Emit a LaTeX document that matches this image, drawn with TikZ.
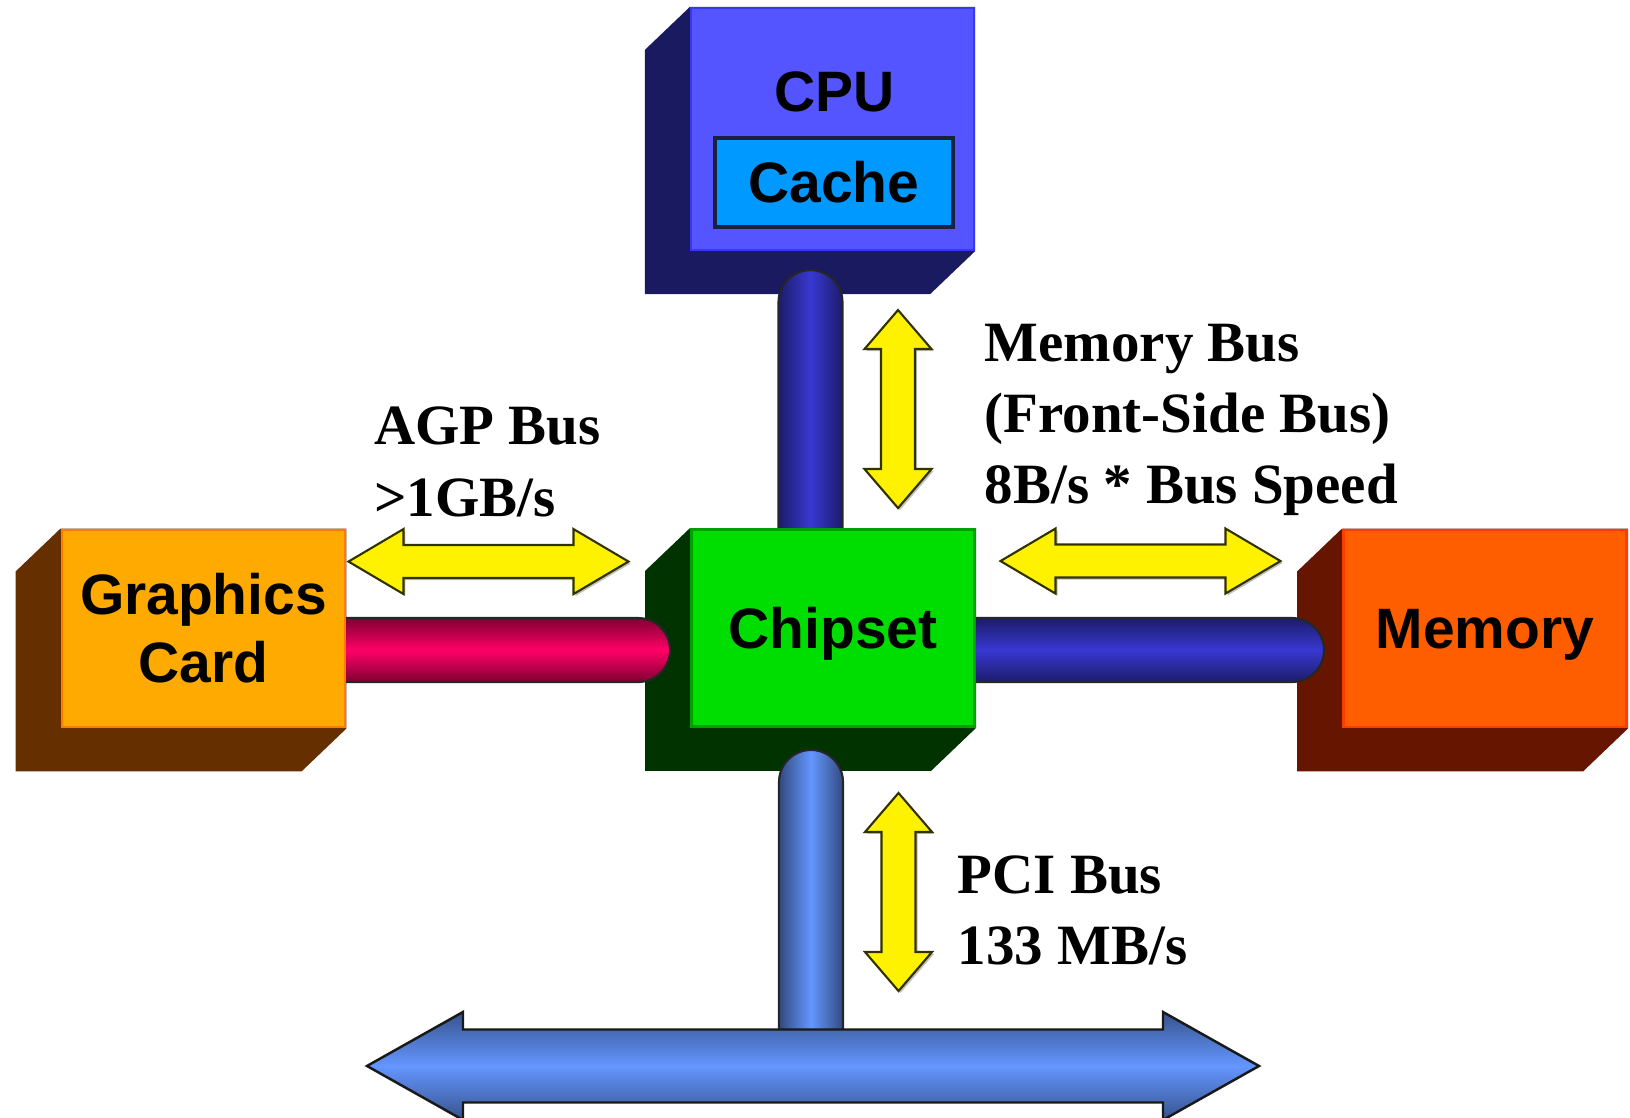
\documentclass[tikz,border=0pt]{standalone}
\usepackage{fontspec}
\setmainfont{Liberation Serif}
\newfontfamily\boxfont{Liberation Sans}
\usepackage{tikz}
\usetikzlibrary{positioning,calc}

\definecolor{cpufront}{RGB}{85,85,255}
\definecolor{cpuedge}{RGB}{56,56,240}
\definecolor{cpuside}{RGB}{26,26,96}
\definecolor{cachefill}{RGB}{0,153,255}
\definecolor{cacheedge}{RGB}{26,32,64}
\definecolor{gfxfront}{RGB}{255,170,0}
\definecolor{gfxedge}{RGB}{255,122,0}
\definecolor{gfxside}{RGB}{102,47,0}
\definecolor{chipfront}{RGB}{0,221,0}
\definecolor{chipedge}{RGB}{0,160,0}
\definecolor{chipside}{RGB}{0,51,0}
\definecolor{memfront}{RGB}{255,94,0}
\definecolor{memedge}{RGB}{255,60,0}
\definecolor{memside}{RGB}{102,22,0}
\definecolor{pipeblue}{RGB}{56,56,210}
\definecolor{pipered}{RGB}{255,0,102}
\definecolor{pipelight}{RGB}{100,150,255}
\definecolor{arrowedge}{RGB}{50,50,0}

\pgfdeclarelayer{sides}
\pgfdeclarelayer{pipes}
\pgfsetlayers{sides,pipes,main}

\tikzset{
    box/.style={minimum width=2.83cm, minimum height=1.97cm, inner sep=0pt, line width=0.8pt,
        align=center, font=\boxfont\bfseries\fontsize{16.2}{19.3}\selectfont},
    buslabel/.style={anchor=north west, inner sep=0pt, align=left,
        font=\bfseries\fontsize{16.2}{20.2}\selectfont},
    vpipe/.style={draw=black!85, line width=0.6pt, left color=#1!50!black, right color=#1!50!black, middle color=#1},
    hpipe/.style={draw=black!85, line width=0.6pt, top color=#1!50!black, bottom color=#1!50!black, middle color=#1},
    yfill/.style={fill=yellow, draw=arrowedge, line width=0.6pt},
    pics/harrow/.style={code={
        \fill[black!25, shift={(2,2)}] (-140,0) -- (-85,-32.5) -- (-85,-16.5) -- (85,-16.5) -- (85,-32.5) -- (140,0)
            -- (85,32.5) -- (85,16.5) -- (-85,16.5) -- (-85,32.5) -- cycle;
        \draw[yfill] (-140,0) -- (-85,-32.5) -- (-85,-16.5) -- (85,-16.5) -- (85,-32.5) -- (140,0)
            -- (85,32.5) -- (85,16.5) -- (-85,16.5) -- (-85,32.5) -- cycle;
    }},
    pics/varrow/.style={code={
        \fill[black!25, shift={(2,2)}] (0,-99) -- (33.5,-60) -- (17,-60) -- (17,60) -- (33.5,60) -- (0,99)
            -- (-33.5,60) -- (-17,60) -- (-17,-60) -- (-33.5,-60) -- cycle;
        \draw[yfill] (0,-99) -- (33.5,-60) -- (17,-60) -- (17,60) -- (33.5,60) -- (0,99)
            -- (-33.5,60) -- (-17,60) -- (-17,-60) -- (-33.5,-60) -- cycle;
    }},
}

\begin{document}
\begin{tikzpicture}[x=0.01cm, y=-0.01cm]
    \useasboundingbox (0,0) rectangle (1630,1117);

    % Boxes (front faces)
    \node[box, fill=cpufront, draw=cpuedge, line width=0.6pt, minimum height=2.42cm] (cpu) at (832.5,129) {};
    \node[font=\boxfont\bfseries\fontsize{16.2}{19}\selectfont, inner sep=0pt] (cpulbl) at ($(cpu.north)+(2,85)$) {CPU};
    \node[box, minimum width=2.38cm, minimum height=0.89cm, fill=cachefill, draw=cacheedge, line width=1pt] (cache) at ($(cpu.north)+(1.5,175.5)$) {Cache};
    \node[box, fill=gfxfront, draw=gfxedge] (gfx) at (203.5,628.5) {Graphics\\Card};
    \node[box, fill=chipfront, draw=chipedge, text depth=0pt] (chip) at (833,628) {Chipset};
    \node[box, fill=memfront, draw=memedge, text depth=0pt] (mem) at (1485,628.5) {Memory};

    % Sides
    \begin{pgfonlayer}{sides}
    \foreach \b/\c in {cpu/cpuside, gfx/gfxside, chip/chipside, mem/memside} {
        \fill[\c] (\b.north west) -- ++(-45,43) |- ($(\b.south east)+(-45,43)$) -- (\b.south east) -- (\b.north east) -- cycle;
    }
    \end{pgfonlayer}

    % Buses
    \coordinate (fsbtop) at ($(cpu.south)+(-22,51)$);
    \coordinate (agpend) at ($(chip.west)+(-52,22)$);
    \coordinate (memend) at ($(mem.west)+(-50,21.5)$);
    \coordinate (pcitop) at ($(chip.south)+(-22,54)$);
    \coordinate (bus) at ($(chip.south)+(-20,338)$);
    \begin{pgfonlayer}{pipes}
    \shade[vpipe=pipeblue] ($(fsbtop)+(-32,0)$) arc[start angle=180, end angle=360, radius=32]
        -- ($(fsbtop |- chip.center)+(32,0)$) -- ($(fsbtop |- chip.center)+(-32,0)$) -- cycle;
    \shade[hpipe=pipered] ($(gfx.center |- agpend)+(0,-32)$) -- ($(agpend)+(0,-32)$) arc[start angle=270, end angle=450, radius=32]
        -- ($(gfx.center |- agpend)+(0,32)$) -- cycle;
    \shade[hpipe=pipeblue] ($(chip.center |- memend)+(0,-32)$) -- ($(memend)+(0,-32)$) arc[start angle=270, end angle=450, radius=32]
        -- ($(chip.center |- memend)+(0,32)$) -- cycle;
    \shade[vpipe=pipelight] ($(pcitop)+(-32,0)$) arc[start angle=180, end angle=360, radius=32]
        -- ($(pcitop |- bus)+(32,0)$) -- ($(pcitop |- bus)+(-32,0)$) -- cycle;
    \end{pgfonlayer}

    % PCI bus
    \shade[draw=black!90, line width=0.7pt, top color=pipelight!55!black, bottom color=pipelight!55!black, middle color=pipelight]
        ($(bus)+(-446,0)$) -- ++(96,-54) -- ++(0,17.5) -- ++(700,0) -- ++(0,-17.5) -- ++(96,54)
        -- ++(-96,54) -- ++(0,-17.5) -- ++(-700,0) -- ++(0,17.5) -- cycle;

    % Transfer arrows
    \pic at ($(gfx.north east)+(142,33)$) {harrow};
    \pic at ($(chip.north east)+(164.5,33)$) {harrow};
    \pic at ($(chip.north)+(65,-119)$) {varrow};
    \pic at ($(chip.south)+(65.5,164)$) {varrow};

    % Labels
    \node[buslabel] (agplbl) at ($(gfx.north east)+(27,-122)$) {AGP Bus\\\textgreater1GB/s};
    \node[buslabel] (fsblbl) at ($(chip.north east)+(8,-205)$) {Memory Bus\\(Front-Side Bus)\\8B/s * Bus Speed};
    \node[buslabel] (pcilbl) at ($(chip.south east)+(-19,127)$) {PCI Bus\\133 MB/s};
\end{tikzpicture}
\end{document}
